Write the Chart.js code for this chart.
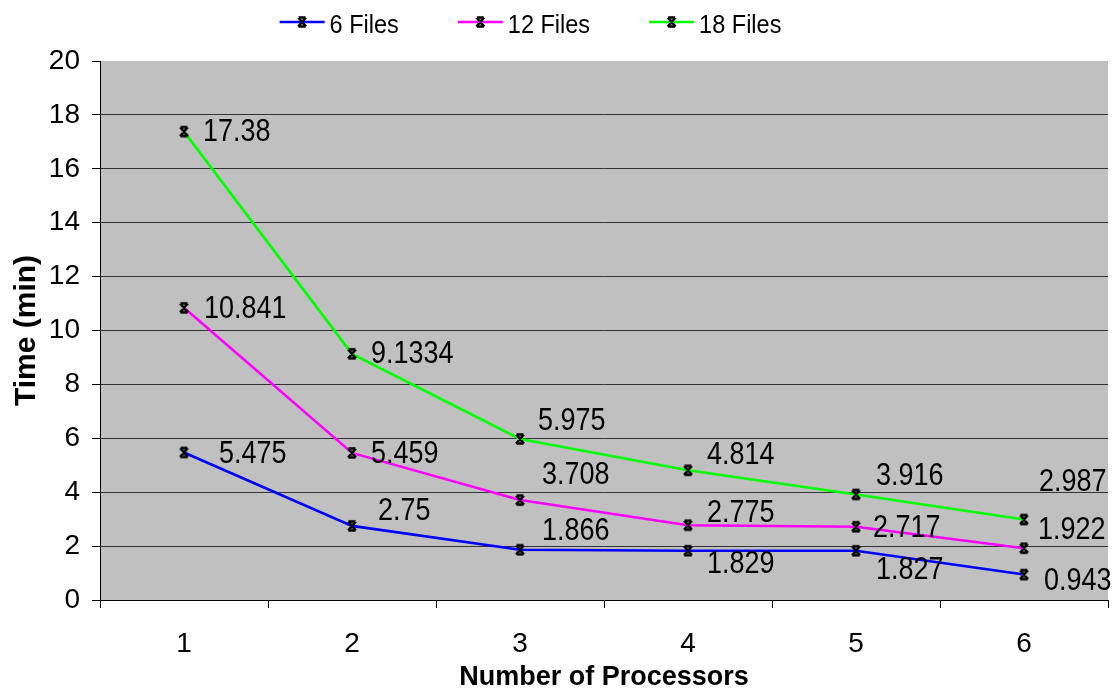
<!DOCTYPE html>
<html>
<head>
<meta charset="utf-8">
<script src="https://cdn.jsdelivr.net/npm/chart.js@4.4.1/dist/chart.umd.min.js"></script>
<style>
  html, body { margin: 0; padding: 0; background: #ffffff; }
  #wrap { width: 1117px; height: 694px; position: relative; }
</style>
</head>
<body>
<div id="wrap"><canvas id="chart" width="1117" height="694"></canvas></div>
<script>
// Run times per processor count
const processors = ['1', '2', '3', '4', '5', '6'];
const files6  = [5.475, 2.75, 1.866, 1.829, 1.827, 0.943];
const files12 = [10.841, 5.459, 3.708, 2.775, 2.717, 1.922];
const files18 = [17.38, 9.1334, 5.975, 4.814, 3.916, 2.987];
const seriesNames = ['6 Files', '12 Files', '18 Files'];
const seriesColors = ['#0000FF', '#FF00FF', '#00FF00'];
const yMin = 0, yMax = 20, yStep = 2;

// Value label placement (left edge dx, vertical centre dy) relative to each point
const labelOffsets = [
  [[35, 0], [26, -17], [22, -21], [19, 11], [20, 17], [20, 5]],
  [[20, -1], [19, -1], [22, -27], [19, -14], [17, -1], [14, -20]],
  [[19, -2], [19, -2], [18, -20], [19, -17], [20, -20], [15, -39]]
];

const FONT = '"Liberation Sans", Arial, sans-serif';
const TEXT_STRETCH = 1.13; // slightly tall glyphs

// Star marker: an X closed by short bars top and bottom
function drawStar(ctx, cx, cy) {
  ctx.save();
  ctx.strokeStyle = '#000';
  ctx.lineWidth = 2.4;
  ctx.lineCap = 'butt';
  ctx.beginPath();
  ctx.moveTo(cx - 4, cy - 4.5); ctx.lineTo(cx + 4, cy + 4.5);
  ctx.moveTo(cx + 4, cy - 4.5); ctx.lineTo(cx - 4, cy + 4.5);
  ctx.moveTo(cx - 3.5, cy - 4.5); ctx.lineTo(cx + 3.5, cy - 4.5);
  ctx.moveTo(cx - 3.5, cy + 4.5); ctx.lineTo(cx + 3.5, cy + 4.5);
  ctx.moveTo(cx, cy - 2.5); ctx.lineTo(cx, cy + 2.5);
  ctx.stroke();
  ctx.restore();
}

function makeMarker() {
  const c = document.createElement('canvas');
  c.width = 14; c.height = 14;
  drawStar(c.getContext('2d'), 7, 7);
  return c;
}
const marker = makeMarker();

// Text drawn with a small vertical stretch around its baseline
function tallText(ctx, text, x, y) {
  ctx.save();
  ctx.translate(x, y);
  ctx.scale(1, TEXT_STRETCH);
  ctx.fillText(text, 0, 0);
  ctx.restore();
}

const plotBackground = {
  id: 'plotBackground',
  beforeDraw(chart) {
    const { ctx, chartArea: a } = chart;
    ctx.save();
    ctx.fillStyle = '#C0C0C0';
    ctx.fillRect(a.left, a.top, a.right - a.left, a.bottom - a.top);
    ctx.restore();
  }
};

const valueLabels = {
  id: 'valueLabels',
  afterDatasetsDraw(chart) {
    const ctx = chart.ctx;
    ctx.save();
    ctx.font = '27px ' + FONT;
    ctx.fillStyle = '#000';
    ctx.textAlign = 'left';
    ctx.textBaseline = 'alphabetic';
    chart.data.datasets.forEach((ds, i) => {
      const meta = chart.getDatasetMeta(i);
      meta.data.forEach((pt, j) => {
        const [dx, dy] = labelOffsets[i][j];
        tallText(ctx, String(ds.data[j]), pt.x + dx, pt.y + dy + 10.9);
      });
    });
    ctx.restore();
  }
};

const lineLegend = {
  id: 'lineLegend',
  afterDraw(chart) {
    const ctx = chart.ctx;
    const lineW = 45, textGap = 5, itemGap = 59;
    const lineY = 22, baseY = 33;
    ctx.save();
    ctx.font = '23.5px ' + FONT;
    const items = chart.data.datasets.map(ds => ({
      label: ds.label, color: ds.borderColor,
      w: lineW + textGap + ctx.measureText(ds.label).width
    }));
    const total = items.reduce((s, it) => s + it.w, 0) + itemGap * (items.length - 1);
    let x = chart.width / 2 - 28 - total / 2;
    items.forEach(it => {
      ctx.strokeStyle = it.color;
      ctx.lineWidth = 2.6;
      ctx.beginPath();
      ctx.moveTo(x, lineY); ctx.lineTo(x + lineW, lineY);
      ctx.stroke();
      drawStar(ctx, x + lineW / 2, lineY);
      ctx.fillStyle = '#000';
      ctx.textAlign = 'left';
      ctx.textBaseline = 'alphabetic';
      tallText(ctx, it.label, x + lineW + textGap, baseY);
      x += it.w + itemGap;
    });
    ctx.restore();
  }
};

const seriesData = [files6, files12, files18];

new Chart(document.getElementById('chart'), {
  type: 'line',
  data: {
    labels: processors,
    datasets: seriesData.map((d, i) => ({
      label: seriesNames[i],
      data: d,
      borderColor: seriesColors[i],
      backgroundColor: seriesColors[i],
      borderWidth: 2.6,
      tension: 0,
      fill: false,
      pointStyle: marker,
      pointRadius: 5,
      pointHoverRadius: 5
    }))
  },
  options: {
    responsive: false,
    animation: false,
    events: [],
    layout: { padding: { left: 0, right: 9, top: 61, bottom: 0 } },
    plugins: {
      legend: { display: false },
      tooltip: { enabled: false }
    },
    scales: {
      x: {
        type: 'category',
        offset: true,
        grid: {
          display: true,
          offset: true,
          drawOnChartArea: false,
          drawTicks: true,
          tickLength: 8,
          color: '#000',
          tickColor: '#000'
        },
        border: { display: true, color: '#000', width: 1 },
        ticks: {
          color: '#000',
          font: { family: FONT, size: 28 },
          padding: 19,
          maxRotation: 0
        },
        title: {
          display: true,
          text: 'Number of Processors',
          color: '#000',
          font: { family: FONT, size: 27, weight: 'bold' },
          padding: { top: 0, bottom: 0 }
        },
        afterFit(scale) { scale.height = 94; }
      },
      y: {
        min: yMin,
        max: yMax,
        ticks: {
          stepSize: yStep,
          color: '#000',
          font: { family: FONT, size: 28 },
          padding: 12
        },
        grid: {
          color: ctx => (ctx.tick && (ctx.tick.value === yMax || ctx.tick.value === yMin)) ? 'rgba(0,0,0,0)' : '#333333',
          tickColor: '#000',
          tickLength: 8,
          drawTicks: true,
          lineWidth: 1
        },
        border: { display: true, color: '#000', width: 1 },
        title: {
          display: true,
          text: 'Time (min)',
          color: '#000',
          font: { family: FONT, size: 30, weight: 'bold' },
          padding: { top: 9, bottom: 0 }
        },
        afterFit(scale) { scale.width = 100; }
      }
    }
  },
  plugins: [plotBackground, valueLabels, lineLegend]
});
</script>
</body>
</html>
